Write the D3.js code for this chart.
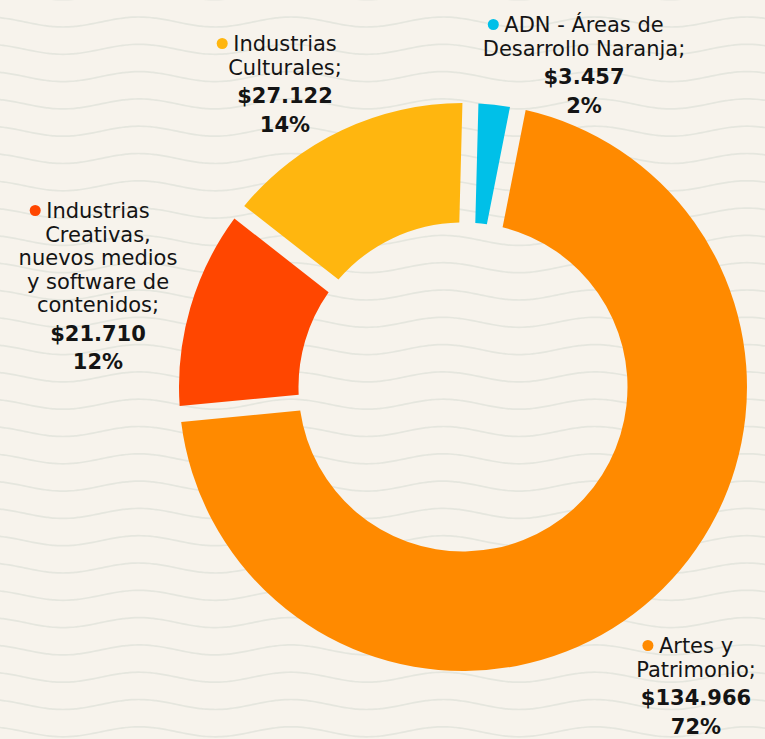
<!DOCTYPE html>
<html>
<head>
<meta charset="utf-8">
<script src="https://cdn.jsdelivr.net/npm/d3@7"></script>
<style>
  html, body { margin: 0; padding: 0; background: #f7f3ec; }
  svg { display: block; }
  text { font-family: "DejaVu Sans", sans-serif; font-size: 21px; fill: #141414; }
</style>
</head>
<body>
<svg id="chart" width="765" height="739"></svg>
<script>
// ---- data ----
const categories = [
  "ADN - Áreas de Desarrollo Naranja",
  "Artes y Patrimonio",
  "Industrias Creativas, nuevos medios y software de contenidos",
  "Industrias Culturales"
];
const values = [3457, 134966, 21710, 27122];
const nameLines = [
  ["ADN - Áreas de", "Desarrollo Naranja;"],
  ["Artes y", "Patrimonio;"],
  ["Industrias", "Creativas,", "nuevos medios", "y software de", "contenidos;"],
  ["Industrias", "Culturales;"]
];
const colors = ["#00c0e8", "#ff8a00", "#ff4600", "#ffb60f"];

// ---- layout ----
const W = 765, H = 739;
const cx = 463, cy = 387;
const outerR = 284, innerR = 164.5;
const gap = 16;
// label block anchors: [center x, first baseline y]
const labelAnchors = [[584, 32], [696, 653], [98, 218], [285, 51]];
const lineStep = 23.5, boldStep = 28.5;

const svg = d3.select("#chart");
svg.append("rect").attr("width", W).attr("height", H).attr("fill", "#f7f3ec");

// background waves (decoration)
const waveG = svg.append("g");
const wavePeriod = 152, waveAmp = 5, waveSpacing = 27.3;
const xs = d3.range(-6, W + 7, 3);
const waveLine = d3.line().curve(d3.curveBasis);
for (let i = 0; i < 29; i++) {
  const base = -5.3 + i * waveSpacing;
  waveG.append("path")
    .attr("d", waveLine(xs.map(x => [x, base + waveAmp * Math.cos(2 * Math.PI * (x - 63) / wavePeriod)])))
    .attr("fill", "none")
    .attr("stroke", "#e5e6de")
    .attr("stroke-width", 1.7);
}

// donut
const total = d3.sum(values);
const padA = 2 * Math.asin((gap / 2) / outerR);
const start = 1.5 * Math.PI / 180;
const pie = d3.pie().sort(null).value(d => d).padAngle(padA)
  .startAngle(start).endAngle(start + 2 * Math.PI);
const arc = d3.arc().innerRadius(innerR).outerRadius(outerR).padRadius(outerR);
const arcs = pie(values);

const g = svg.append("g").attr("transform", `translate(${cx},${cy})`);
g.selectAll("path.slice").data(arcs).join("path")
  .attr("class", "slice")
  .attr("d", arc)
  .attr("fill", (d, i) => colors[i]);

// labels
const loc = d3.formatLocale({ decimal: ",", thousands: ".", grouping: [3], currency: ["$", ""] });
const fmtMoney = loc.format("$,.0f");
const fmtPct = d3.format(".0%");

const labG = svg.append("g");
values.forEach((v, i) => {
  const [ax, ay] = labelAnchors[i];
  const lines = nameLines[i];
  const grp = labG.append("g");
  let y = ay;
  let firstText = null;
  lines.forEach((t, j) => {
    const tx = grp.append("text").attr("x", ax).attr("y", y).attr("text-anchor", "middle").text(t);
    if (j === 0) firstText = tx;
    y += lineStep;
  });
  y += boldStep - lineStep;
  grp.append("text").attr("x", ax).attr("y", y).attr("text-anchor", "middle")
    .attr("font-weight", "bold").text(fmtMoney(v));
  y += boldStep;
  grp.append("text").attr("x", ax).attr("y", y).attr("text-anchor", "middle")
    .attr("font-weight", "bold").text(fmtPct(v / total));
  const w = firstText.node().getComputedTextLength();
  grp.append("circle")
    .attr("cx", ax - w / 2 - 11)
    .attr("cy", ay - 7.5)
    .attr("r", 5.5)
    .attr("fill", colors[i]);
});
</script>
</body>
</html>
